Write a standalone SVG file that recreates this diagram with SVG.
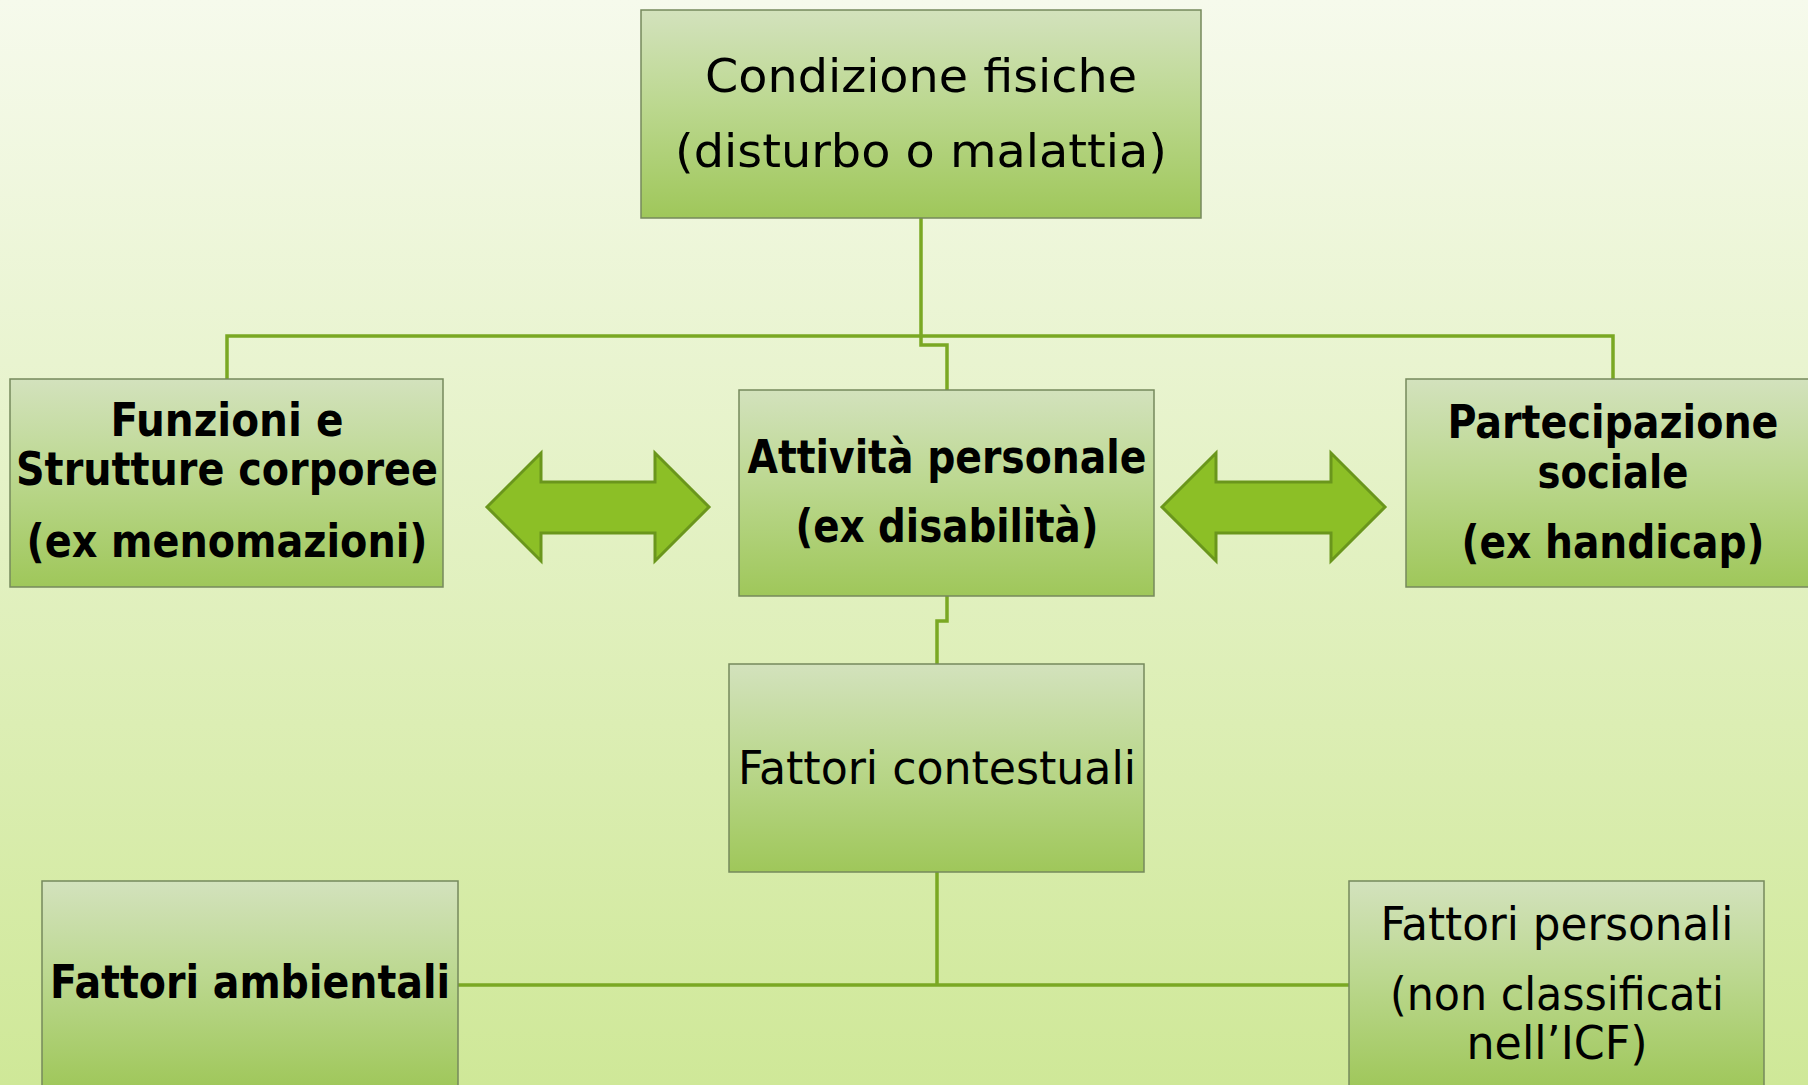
<svg xmlns="http://www.w3.org/2000/svg" width="1808" height="1085" viewBox="0 0 1808 1085">
<defs>
<linearGradient id="bg" x1="0" y1="0" x2="0" y2="1">
<stop offset="0" stop-color="#f6faec"/>
<stop offset="1" stop-color="#cfe898"/>
</linearGradient>
<linearGradient id="box" x1="0" y1="0" x2="0" y2="1">
<stop offset="0" stop-color="#d3e2bd"/>
<stop offset="0.45" stop-color="#bcd890"/>
<stop offset="1" stop-color="#9fc75a"/>
</linearGradient>
<style>
.box{fill:url(#box);stroke:#76895c;stroke-width:1.5}
.t{font-family:"DejaVu Sans","Liberation Sans",sans-serif;font-stretch:condensed;font-size:46px;fill:#000;text-anchor:middle}
.b{font-weight:bold}
.con{fill:none;stroke:#7aa823;stroke-width:3.5}
.arr{fill:#8cbf26;stroke:#6a961c;stroke-width:3;stroke-linejoin:miter}
</style>
</defs>
<rect width="1808" height="1085" fill="url(#bg)"/>
<g id="connectors">
<path class="con" d="M921 218 V336 M227 379 V336 H1613 V379 M921 336 V345 H947 V390"/>
<path class="con" d="M947 596 V621 H937 V664 M937 872 V985 M458 985 H1349"/>
</g>
<g id="arrow-left"><path class="arr" d="M487 507 L541 453 V482 H655 V453 L709 507 L655 561 V533 H541 V561 Z"/></g>
<g id="arrow-right"><path class="arr" d="M1162 507 L1216 453 V482 H1331 V453 L1385 507 L1331 561 V533 H1216 V561 Z"/></g>
<g id="node-condizione">
<rect class="box" x="641" y="10" width="560" height="208"/>
<text class="t" x="921" y="92" font-size="55" textLength="432" lengthAdjust="spacingAndGlyphs">Condizione fisiche</text>
<text class="t" x="921" y="167" font-size="55" textLength="492" lengthAdjust="spacingAndGlyphs">(disturbo o malattia)</text>
</g>
<g id="node-funzioni">
<rect class="box" x="10" y="379" width="433" height="208"/>
<text class="t b" x="227" y="436" textLength="233" lengthAdjust="spacingAndGlyphs">Funzioni e</text>
<text class="t b" x="227" y="485" textLength="422" lengthAdjust="spacingAndGlyphs">Strutture corporee</text>
<text class="t b" x="227" y="557" textLength="401" lengthAdjust="spacingAndGlyphs">(ex menomazioni)</text>
</g>
<g id="node-attivita">
<rect class="box" x="739" y="390" width="415" height="206"/>
<text class="t b" x="947" y="473" textLength="399" lengthAdjust="spacingAndGlyphs">Attività personale</text>
<text class="t b" x="947" y="542" textLength="303" lengthAdjust="spacingAndGlyphs">(ex disabilità)</text>
</g>
<g id="node-partecipazione">
<rect class="box" x="1406" y="379" width="414" height="208"/>
<text class="t b" x="1613" y="438" textLength="331" lengthAdjust="spacingAndGlyphs">Partecipazione</text>
<text class="t b" x="1613" y="488" textLength="151" lengthAdjust="spacingAndGlyphs">sociale</text>
<text class="t b" x="1613" y="558" textLength="303" lengthAdjust="spacingAndGlyphs">(ex handicap)</text>
</g>
<g id="node-contestuali">
<rect class="box" x="729" y="664" width="415" height="208"/>
<text class="t" x="937" y="784" textLength="398" lengthAdjust="spacingAndGlyphs">Fattori contestuali</text>
</g>
<g id="node-ambientali">
<rect class="box" x="42" y="881" width="416" height="208"/>
<text class="t b" x="250" y="998" textLength="400" lengthAdjust="spacingAndGlyphs">Fattori ambientali</text>
</g>
<g id="node-personali">
<rect class="box" x="1349" y="881" width="415" height="208"/>
<text class="t" x="1557" y="940" textLength="353" lengthAdjust="spacingAndGlyphs">Fattori personali</text>
<text class="t" x="1557" y="1010" textLength="334" lengthAdjust="spacingAndGlyphs">(non classificati</text>
<text class="t" x="1557" y="1059" textLength="181" lengthAdjust="spacingAndGlyphs">nell’ICF)</text>
</g>
</svg>
